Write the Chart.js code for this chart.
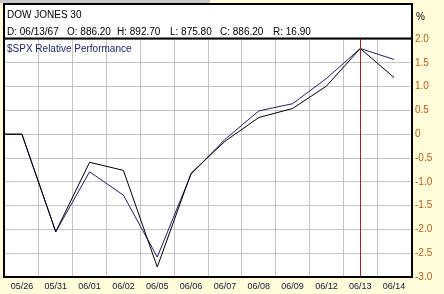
<!DOCTYPE html>
<html>
<head>
<meta charset="utf-8">
<script src="https://cdn.jsdelivr.net/npm/chart.js@4"></script>
<style>
  html, body { margin: 0; padding: 0; background: #fffcd9; }
  #wrap { position: relative; width: 444px; height: 294px; }
</style>
</head>
<body>
<div id="wrap"><canvas id="perfChart" width="444" height="294"></canvas></div>
<script>
// Values
const dates = ['05/26', '05/31', '06/01', '06/02', '06/05', '06/06', '06/07', '06/08', '06/09', '06/12', '06/13', '06/14'];
const dowSeries = [0, -2.05, -0.59, -0.76, -2.79, -0.82, -0.15, 0.35, 0.54, 1.01, 1.80, 1.19];
const spxSeries = [0, -2.05, -0.79, -1.28, -2.58, -0.84, -0.11, 0.49, 0.64, 1.17, 1.80, 1.57];
const priorValue = 0;          // both lines come in flat from the left edge
const yMin = -3, yMax = 2, yStep = 0.5;
const cursorDate = '06/13';

const titleText = 'DOW JONES 30';
const quoteParts = ['D: 06/13/67', 'O: 886.20', 'H: 892.70', 'L: 875.80', 'C: 886.20', 'R: 16.90'];
const quoteX = [7, 67, 117, 170, 220, 273];
const seriesLabel = '$SPX Relative Performance';

const FONT = '"Liberation Sans", Arial, sans-serif';

// turn a value list into {x,y} points, with the lead-in point one day before
function toPoints(values) {
    const pts = [{ x: -1, y: priorValue }];
    values.forEach((v, i) => pts.push({ x: i, y: v }));
    return pts;
}

// background, title box, frame, cursor and texts
const chromePlugin = {
    id: 'chrome',
    beforeDraw(chart) {
        const ctx = chart.ctx;
        const a = chart.chartArea;
        ctx.save();
        ctx.fillStyle = '#fffcd9';
        ctx.fillRect(0, 0, chart.width, chart.height);
        ctx.fillStyle = '#c8c8c8';
        ctx.fillRect(0, 0, 210, 3);
        ctx.fillStyle = '#ffffff';
        ctx.fillRect(4, 4, a.right - 4, a.bottom - 4);
        ctx.restore();
    },
    afterDatasetsDraw(chart) {
        const ctx = chart.ctx;
        const a = chart.chartArea;
        const xs = chart.scales.x;
        ctx.save();
        // dark red cursor on the current date
        const cx = Math.round(xs.getPixelForValue(dates.indexOf(cursorDate))) + 0.5;
        ctx.strokeStyle = '#9c2424';
        ctx.lineWidth = 1;
        ctx.beginPath();
        ctx.moveTo(cx, a.top);
        ctx.lineTo(cx, a.bottom);
        ctx.stroke();
        // frame
        ctx.strokeStyle = '#000000';
        ctx.lineWidth = 2;
        ctx.strokeRect(4, 4, a.right + 1 - 4, a.bottom - 4);
        ctx.beginPath();
        ctx.moveTo(4, 38.5);
        ctx.lineTo(a.right + 1, 38.5);
        ctx.stroke();
        ctx.restore();
    },
    afterDraw(chart) {
        const ctx = chart.ctx;
        ctx.save();
        ctx.font = '10px ' + FONT;
        ctx.textBaseline = 'alphabetic';
        ctx.fillStyle = '#000000';
        ctx.fillText(titleText, 7, 18);
        quoteParts.forEach((p, i) => ctx.fillText(p, quoteX[i], 35));
        ctx.fillText('%', 416, 20);
        ctx.fillStyle = '#1e1e6e';
        ctx.fillText(seriesLabel, 7, 52);
        ctx.restore();
    }
};

new Chart(document.getElementById('perfChart'), {
    type: 'line',
    data: {
        datasets: [{
            label: 'DOW JONES 30',
            data: toPoints(dowSeries),
            borderColor: '#000000',
            borderWidth: 1,
            pointRadius: 0,
            tension: 0
        }, {
            label: seriesLabel,
            data: toPoints(spxSeries),
            borderColor: '#1e1e6e',
            borderWidth: 1,
            pointRadius: 0,
            tension: 0
        }]
    },
    options: {
        responsive: false,
        animation: false,
        devicePixelRatio: 1,
        layout: { padding: { top: 39, left: 5, right: 0, bottom: 0 } },
        plugins: {
            legend: { display: false },
            tooltip: { enabled: false }
        },
        scales: {
            x: {
                type: 'linear',
                min: -0.5,
                max: dates.length - 0.5,
                afterBuildTicks(scale) {
                    scale.ticks = dates.map((d, i) => ({ value: i }));
                },
                afterFit(scale) { scale.height = 17; },
                grid: { offset: true, color: '#c4c4c4', drawTicks: false },
                border: { display: false },
                ticks: {
                    autoSkip: false,
                    maxRotation: 0,
                    padding: 4,
                    color: '#14143c',
                    font: { family: FONT, size: 9 },
                    callback: (v) => dates[v] ?? ''
                }
            },
            y: {
                position: 'right',
                min: yMin,
                max: yMax,
                afterFit(scale) { scale.width = 33; },
                grid: { color: '#c4c4c4', drawTicks: false },
                border: { display: false },
                ticks: {
                    stepSize: yStep,
                    padding: 4,
                    color: '#b0601c',
                    font: { family: FONT, size: 10 }
                }
            }
        }
    },
    plugins: [chromePlugin]
});
</script>
</body>
</html>
